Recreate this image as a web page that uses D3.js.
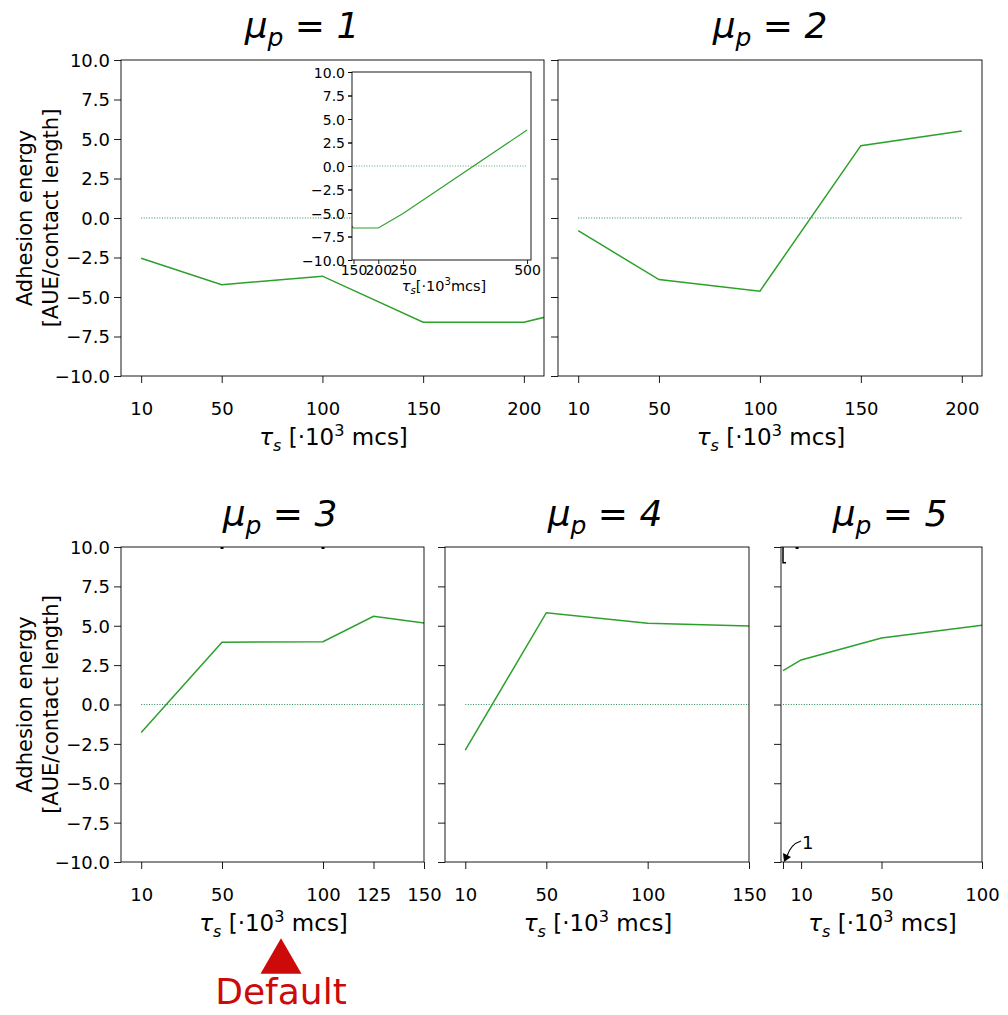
<!DOCTYPE html>
<html>
<head>
<meta charset="utf-8">
<script src="https://cdn.jsdelivr.net/npm/d3@7"></script>
<style>
body { margin: 0; background: #fff; }
text { font-family: "DejaVu Sans", sans-serif; fill: #000; }
</style>
</head>
<body>
<div id="chart"></div>
<script>
// values
var tauA = [10, 50, 100, 150, 200, 250, 500];
var energyA = [-2.55, -4.22, -3.68, -6.6, -6.6, -5.05, 3.83];
var tauB = [10, 50, 100, 150, 200];
var energyB = [-0.8, -3.9, -4.63, 4.58, 5.5];
var tauC = [10, 50, 100, 125, 150];
var energyC = [-1.78, 3.95, 3.99, 5.6, 5.17];
var tauD = [10, 50, 100, 150];
var energyD = [-2.9, 5.83, 5.16, 4.98];
var tauE = [1, 10, 50, 100];
var energyE = [2.15, 2.83, 4.22, 5.03];

var ticksA = [10, 50, 100, 150, 200];
var ticksB = [10, 50, 100, 150, 200];
var ticksC = [10, 50, 100, 125, 150];
var ticksD = [10, 50, 100, 150];
var ticksE = [1, 10, 50, 100];
var ticksInset = [150, 200, 250, 500];
var yTicks = [-10, -7.5, -5, -2.5, 0, 2.5, 5, 7.5, 10];

var zeroA = [10, 200], zeroB = [10, 200], zeroC = [10, 150], zeroD = [10, 150], zeroE = [1, 100];
var zeroInset = [150, 500];

// black marks clipped at the top edge
var topMarksC = [50, 100];
var topMarksE = [8];

var lineColor = '#2ca02c';
var zeroColor = '#2e8b57';

var svg = d3.select('#chart').append('svg')
    .attr('width', 1008)
    .attr('height', 1015);

var fmt = d3.format('.1f');

function tauLabel(g, x, y, size, tight) {
    var t = g.append('text')
        .attr('x', x).attr('y', y)
        .attr('text-anchor', 'middle')
        .style('font-size', size + 'px');
    t.append('tspan').style('font-style', 'italic').text('τ');
    t.append('tspan').style('font-style', 'italic').style('font-size', (size * 0.7) + 'px')
        .attr('dy', size * 0.24).text('s');
    t.append('tspan').attr('dy', -size * 0.24).text(tight ? '[·10' : ' [·10');
    t.append('tspan').style('font-size', (size * 0.7) + 'px')
        .attr('dy', -size * 0.38).text('3');
    t.append('tspan').attr('dy', size * 0.38).text(tight ? 'mcs]' : ' mcs]');
}

function drawPanel(p) {
    var x = d3.scaleLinear().domain(p.xdom).range([p.x0, p.x1]);
    var y = d3.scaleLinear().domain([-10, 10]).range([p.y1, p.y0]);
    var g = svg.append('g');

    g.append('rect')
        .attr('x', p.x0).attr('y', p.y0)
        .attr('width', p.x1 - p.x0).attr('height', p.y1 - p.y0)
        .attr('fill', '#fff');

    var clipId = 'clip' + p.id;
    g.append('clipPath').attr('id', clipId)
        .append('rect')
        .attr('x', p.x0).attr('y', p.y0 - 1)
        .attr('width', p.x1 - p.x0).attr('height', p.y1 - p.y0 + 2);

    var plot = g.append('g').attr('clip-path', 'url(#' + clipId + ')');

    plot.append('line')
        .attr('x1', x(p.zero[0])).attr('x2', x(p.zero[1]))
        .attr('y1', y(0)).attr('y2', y(0))
        .attr('stroke', zeroColor)
        .attr('stroke-width', p.small ? 0.8 : 1)
        .attr('stroke-dasharray', '1,1.6');

    var pts = p.tau.map(function(t, i) { return [t, p.energy[i]]; });
    var line = d3.line().x(function(d) { return x(d[0]); }).y(function(d) { return y(d[1]); });
    plot.append('path')
        .attr('d', line(pts))
        .attr('fill', 'none')
        .attr('stroke', lineColor)
        .attr('stroke-width', p.small ? 1.1 : 1.5);

    if (p.topMarks) {
        p.topMarks.forEach(function(t) {
            g.append('line')
                .attr('x1', x(t) - 1.5).attr('x2', x(t) + 1.5)
                .attr('y1', p.y0 + 1).attr('y2', p.y0 + 1)
                .attr('stroke', '#000').attr('stroke-width', 2);
        });
    }
    if (p.errBar) {
        g.append('path')
            .attr('d', 'M' + x(p.errBar[0]) + ',' + y(10) + 'V' + y(p.errBar[1]) + 'h3')
            .attr('fill', 'none').attr('stroke', '#000').attr('stroke-width', 1.5);
    }

    var fs = p.small ? 14 : 18;
    var tl = p.small ? 4 : 7;

    var xAxis = d3.axisBottom(x)
        .tickValues(p.ticks)
        .tickSize(tl)
        .tickFormat(function(d) { return (p.hideTick && p.hideTick.indexOf(d) >= 0) ? '' : d; });
    var xa = g.append('g').attr('transform', 'translate(0,' + p.y1 + ')').call(xAxis);
    xa.select('.domain').remove();
    xa.selectAll('line').attr('stroke', '#000').attr('stroke-width', 0.9);
    xa.selectAll('text')
        .attr('y', p.small ? 15 : 39).attr('dy', 0)
        .style('font-family', 'DejaVu Sans').style('font-size', fs + 'px').attr('fill', '#000');

    var yAxis = d3.axisLeft(y)
        .tickValues(yTicks)
        .tickSize(tl)
        .tickPadding(p.small ? 3 : 4)
        .tickFormat(function(d) { return p.yLabels ? fmt(d) : ''; });
    var ya = g.append('g').attr('transform', 'translate(' + p.x0 + ',0)').call(yAxis);
    ya.select('.domain').remove();
    ya.selectAll('line').attr('stroke', '#000').attr('stroke-width', 0.9);
    ya.selectAll('text')
        .attr('dy', '0.36em')
        .style('font-family', 'DejaVu Sans').style('font-size', fs + 'px').attr('fill', '#000');

    g.append('rect')
        .attr('x', p.x0).attr('y', p.y0)
        .attr('width', p.x1 - p.x0).attr('height', p.y1 - p.y0)
        .attr('fill', 'none').attr('stroke', '#000').attr('stroke-width', 0.9);

    if (p.small) {
        tauLabel(g, 444, p.y1 + 31, 14.5, true);
    } else {
        tauLabel(g, (p.x0 + p.x1) / 2 + 1, p.y1 + 69, 23, false);
    }

    if (p.mu) {
        var tt = g.append('text')
            .attr('x', p.titleX).attr('y', p.titleY)
            .attr('text-anchor', 'middle')
            .style('font-size', '36px').style('font-style', 'italic');
        tt.append('tspan').text('μ');
        tt.append('tspan').style('font-size', '25px').attr('dy', 8).text('p');
        tt.append('tspan').attr('dy', -8).text(' = ' + p.mu);
    }

    if (p.yLabels) {
        var cy = (p.y0 + p.y1) / 2;
        g.append('text')
            .attr('transform', 'translate(32,' + cy + ') rotate(-90)')
            .attr('text-anchor', 'middle')
            .style('font-size', '21px')
            .text('Adhesion energy');
        g.append('text')
            .attr('transform', 'translate(58,' + cy + ') rotate(-90)')
            .attr('text-anchor', 'middle')
            .style('font-size', '21px')
            .text('[AUE/contact length]');
    }
    return { x: x, y: y, g: g };
}

drawPanel({ id: 'A', mu: 1, titleX: 302, titleY: 38, x0: 121, x1: 544, y0: 60, y1: 376,
    xdom: [0, 210], ticks: ticksA, tau: tauA, energy: energyA, zero: zeroA, yLabels: true });
drawPanel({ id: 'B', mu: 2, titleX: 770, titleY: 38, x0: 558, x1: 982, y0: 60, y1: 376,
    xdom: [0, 210], ticks: ticksB, tau: tauB, energy: energyB, zero: zeroB });
drawPanel({ id: 'C', mu: 3, titleX: 280, titleY: 526, x0: 121, x1: 424, y0: 547, y1: 862,
    xdom: [0, 150], ticks: ticksC, tau: tauC, energy: energyC, zero: zeroC, yLabels: true,
    topMarks: topMarksC });
drawPanel({ id: 'D', mu: 4, titleX: 605, titleY: 526, x0: 445, x1: 749, y0: 547, y1: 862,
    xdom: [0, 150], ticks: ticksD, tau: tauD, energy: energyD, zero: zeroD });
var pe = drawPanel({ id: 'E', mu: 5, titleX: 890, titleY: 526, x0: 781, x1: 982, y0: 547, y1: 862,
    xdom: [0, 100], ticks: ticksE, tau: tauE, energy: energyE, zero: zeroE, hideTick: [1],
    topMarks: topMarksE, errBar: [1, 9] });

// inset of the first panel
drawPanel({ id: 'I', small: true, x0: 352, x1: 531, y0: 72, y1: 260,
    xdom: [147, 508], ticks: ticksInset, tau: tauA, energy: energyA, zero: zeroInset, yLabels: false });
// inset y labels
(function() {
    var y = d3.scaleLinear().domain([-10, 10]).range([260, 72]);
    var ya = svg.append('g').attr('transform', 'translate(352,0)')
        .call(d3.axisLeft(y).tickValues(yTicks).tickSize(4).tickPadding(3).tickFormat(fmt));
    ya.select('.domain').remove();
    ya.selectAll('line').attr('stroke', '#000').attr('stroke-width', 0.9);
    ya.selectAll('text').attr('dy', '0.36em')
        .style('font-family', 'DejaVu Sans').style('font-size', '14px').attr('fill', '#000');
})();

// annotation "1" in the last panel
(function() {
    var tx = pe.x(1), ty = pe.y(-10);
    svg.append('text')
        .attr('x', tx + 19).attr('y', ty - 13)
        .style('font-size', '18px').text('1');
    svg.append('path')
        .attr('d', 'M' + (tx + 18) + ',' + (ty - 21) + ' Q' + (tx + 8) + ',' + (ty - 18) + ' ' + (tx + 4) + ',' + (ty - 6))
        .attr('fill', 'none').attr('stroke', '#000').attr('stroke-width', 1.2);
    svg.append('path')
        .attr('d', 'M' + (tx + 1) + ',' + (ty) + ' L' + (tx) + ',' + (ty - 9) + ' L' + (tx + 8) + ',' + (ty - 5) + 'Z')
        .attr('fill', '#000');
})();

// "Default" marker below the third panel
(function() {
    var cx = 281;
    svg.append('path')
        .attr('d', d3.symbol().type(d3.symbolTriangle).size(728)())
        .attr('transform', 'translate(' + cx + ',962)')
        .attr('fill', '#cc0a0a');
    svg.append('text')
        .attr('x', cx).attr('y', 1004)
        .attr('text-anchor', 'middle')
        .style('font-size', '36px')
        .style('fill', '#cc0a0a')
        .text('Default');
})();
</script>
</body>
</html>
